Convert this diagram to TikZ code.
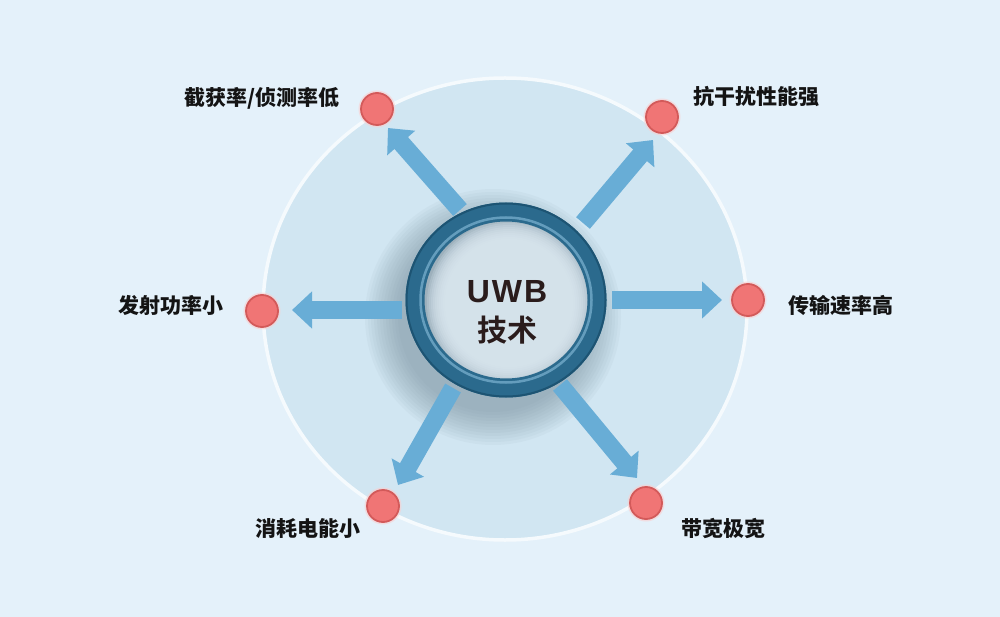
\documentclass[tikz,border=0pt]{standalone}
\usepackage{fontspec}
\usetikzlibrary{arrows.meta}
\newfontfamily\cjkb{Noto Sans CJK SC Black}
\newfontfamily\cjkc{Noto Sans CJK SC Bold}
\newfontfamily\latb{Liberation Sans Bold}[LetterSpace=6]
\definecolor{bg}{HTML}{E4F1FA}
\definecolor{disk}{HTML}{D1E6F2}
\definecolor{diskedge}{HTML}{F5FAFD}
\definecolor{arrowc}{HTML}{68ADD6}
\definecolor{ringc}{HTML}{2B6A8D}
\definecolor{ringdark}{HTML}{1D5473}
\definecolor{ringhi}{HTML}{7DB4D2}
\definecolor{dotc}{HTML}{F07575}
\definecolor{dotedge}{HTML}{D35A5A}
\definecolor{txt}{HTML}{141414}
\definecolor{coretxt}{HTML}{2A1C1C}
\definecolor{shadowc}{HTML}{6F8594}
\definecolor{innerc}{HTML}{DCE9F1}
\definecolor{innerdark}{HTML}{9DB0BC}
\begin{document}
\begin{tikzpicture}[x=1pt,y=-1pt,
  dot/.style={circle, minimum size=32pt, inner sep=0pt, fill=dotc, draw=dotedge, line width=1.8pt,
    preaction={draw=white!65!dotc, line width=5pt, opacity=0.6}},
  arr/.style={draw=arrowc, line width=18pt, -{Triangle[width=36pt,length=20pt]}},
  lbl/.style={font=\cjkb\fontsize{21}{21}\selectfont, text=txt, inner sep=0pt},
]
\useasboundingbox (0,0) rectangle (1000,617);
\fill[bg] (0,0) rectangle (1000,617);
% big disk
\draw[diskedge, line width=3.5pt, fill=disk] (505,309) ellipse [x radius=242, y radius=231];
% soft shadow of ring
\foreach \r in {128,125,...,95} { \fill[shadowc, opacity=0.055] (493,317) circle [radius=\r]; }
% arrow coordinates
\coordinate (t1) at (460,210); \coordinate (h1) at (388,128);
\coordinate (t2) at (583,223); \coordinate (h2) at (653,140);
\coordinate (t3) at (612,300); \coordinate (h3) at (722,300);
\coordinate (t4) at (402,310); \coordinate (h4) at (292,310);
\coordinate (t5) at (453,388); \coordinate (h5) at (398,485);
\coordinate (t6) at (560,385); \coordinate (h6) at (637,478);
\foreach \i in {1,...,6} { \draw[arr] (t\i) -- (h\i); }
% ring interior with soft inner shadow
\fill[innerdark] (506,300) ellipse [x radius=84, y radius=81];
\foreach \r in {82,80,...,64} { \fill[innerc, opacity=0.22] (509,303) circle [radius=\r]; }
% ring
\draw[ringc, line width=19pt] (506,300) ellipse [x radius=91, y radius=88];
\draw[ringdark, line width=2pt] (506,300) ellipse [x radius=99.5, y radius=96.5];
\draw[ringhi, line width=2.5pt, opacity=0.7] (506,300) ellipse [x radius=85.5, y radius=82.5];
\node[circle, minimum size=200pt, inner sep=0pt] (core) at (506,300) {};
\node[font=\latb\fontsize{32}{32}\selectfont, text=coretxt, inner sep=0pt] (uwb) at (507,292) {UWB};
\node[font=\cjkc\fontsize{30}{30}\selectfont, text=coretxt, inner sep=0pt] (tech) at (507,330) {技术};
% dots
\node[dot] (d1) at (377,109) {};
\node[dot] (d2) at (662,117) {};
\node[dot] (d3) at (748,300) {};
\node[dot] (d4) at (262,311) {};
\node[dot] (d5) at (383,506) {};
\node[dot] (d6) at (646,503) {};
% labels
\node[lbl] (l1) at (262,98) {截获率/侦测率低};
\node[lbl] (l2) at (756,97) {抗干扰性能强};
\node[lbl] (l3) at (841,305) {传输速率高};
\node[lbl] (l4) at (171,305) {发射功率小};
\node[lbl] (l5) at (308,528) {消耗电能小};
\node[lbl] (l6) at (723,528) {带宽极宽};
\end{tikzpicture}
\end{document}
